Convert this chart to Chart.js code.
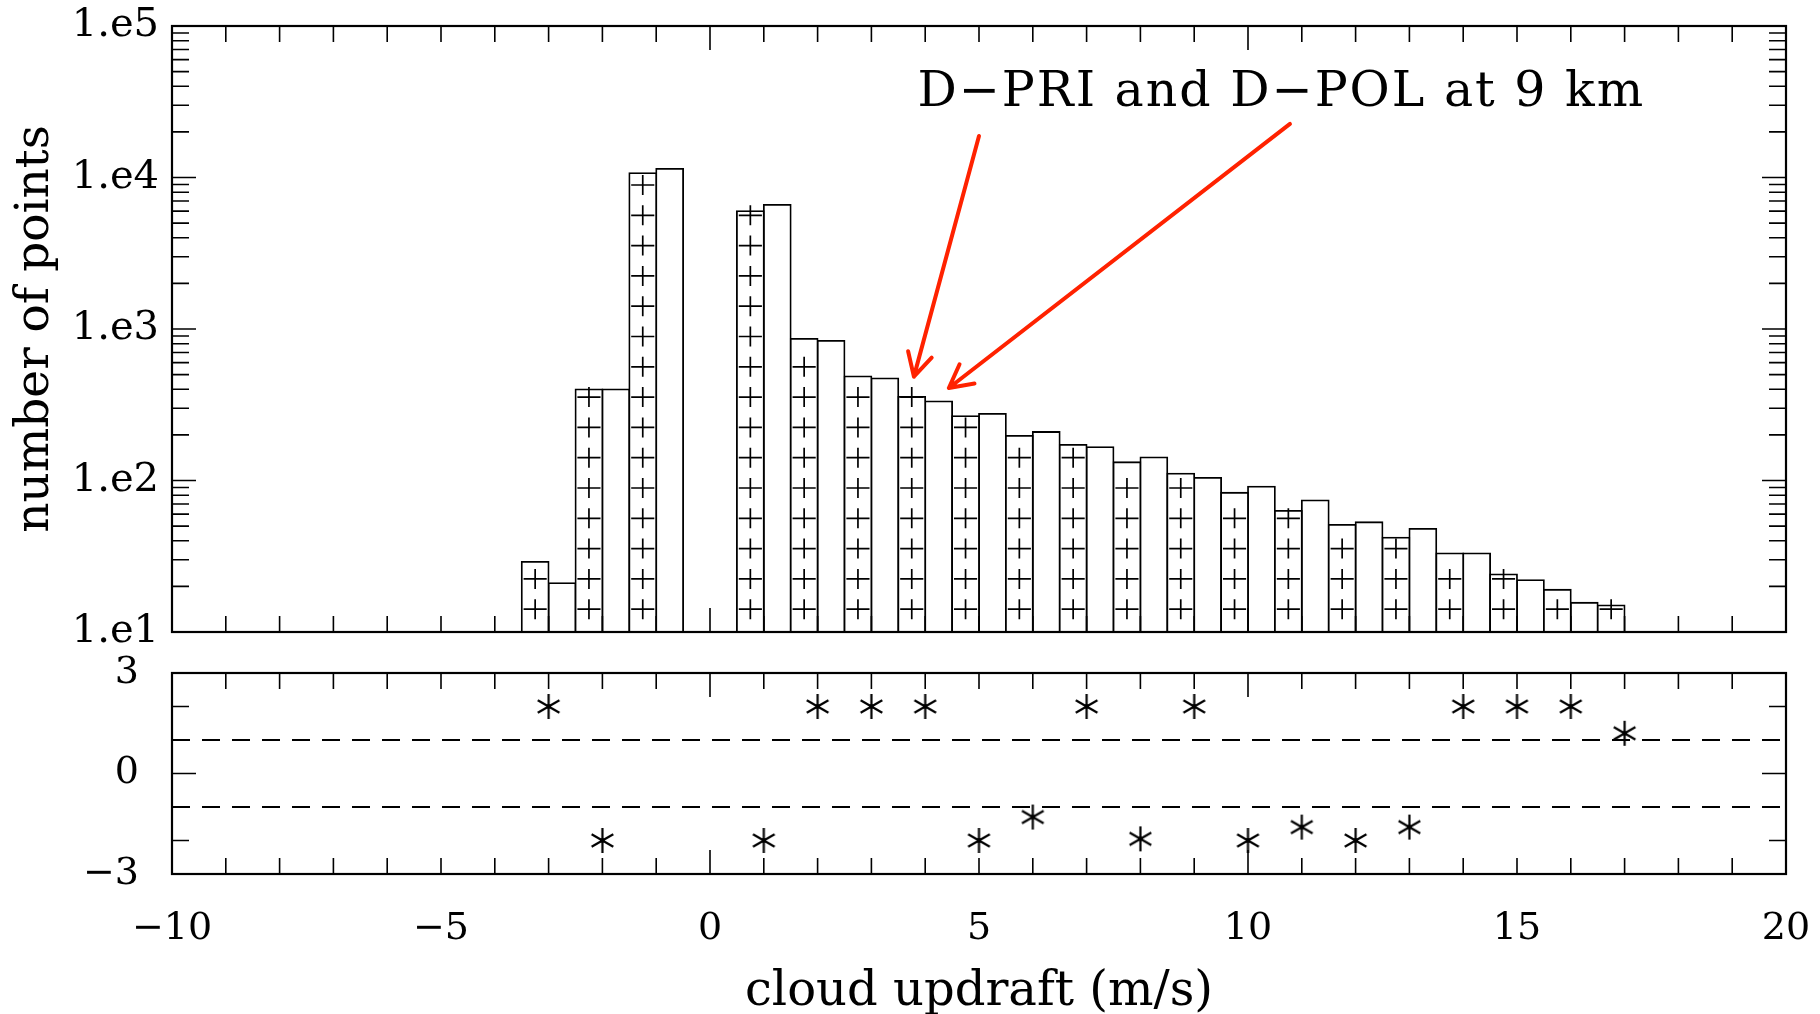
<!DOCTYPE html>
<html>
<head>
<meta charset="utf-8">
<title>cloud updraft histogram</title>
<script src="https://cdn.jsdelivr.net/npm/chart.js@4/dist/chart.umd.min.js"></script>
<style>
  html, body { margin: 0; padding: 0; background: #fff; }
  body { width: 1820px; height: 1014px; position: relative; overflow: hidden; }
  .panel { position: absolute; left: 0; width: 1820px; }
  #topPanel { top: 0; height: 660px; }
  #bottomPanel { top: 646px; height: 368px; }
  canvas { display: block; }
</style>
</head>
<body>
<div class="panel" id="topPanel"><canvas id="hist" width="1820" height="660"></canvas></div>
<div class="panel" id="bottomPanel"><canvas id="diff" width="1820" height="368"></canvas></div>
<script>
// ---- data ----------------------------------------------------------
// updraft bins (m/s); each bin holds a D-PRI half bar (left) and a D-POL half bar (right)
const bins = [-3, -2, -1, 0, 1, 2, 3, 4, 5, 6, 7, 8, 9, 10, 11, 12, 13, 14, 15, 16, 17];
const dPri = [29, 400, 10700, null, 6000, 860, 487, 356, 266, 197, 172, 132, 111, 83, 63, 51, 42, 33, 24, 19, 15];
const dPol = [21, 400, 11400, null, 6600, 835, 472, 333, 275, 209, 166, 142, 104, 91, 74, 53, 48, 33, 22, 15.6, null];

// normalised difference per bin (lower panel)
const diffX = [-3, -2, 1, 2, 3, 4, 5, 6, 7, 8, 9, 10, 11, 12, 13, 14, 15, 16, 17];
const diffY = [2, -2, -2, 2, 2, 2, -2, -1.3, 2, -1.95, 2, -2, -1.6, -2, -1.6, 2, 2, 2, 1.2];
const bandLevels = [1, -1];

// axis ranges and tick labels
const xMin = -10, xMax = 20;
const xTickValues = [-10, -5, 0, 5, 10, 15, 20];
const xTickLabels = ['\u221210', '\u22125', '0', '5', '10', '15', '20'];
const histTickValues = [10, 100, 1000, 10000, 100000];
const histTickLabels = ['1.e1', '1.e2', '1.e3', '1.e4', '1.e5'];
const diffTickValues = [-3, 0, 3];
const diffTickLabels = ['\u22123', '0', '3'];

// callout text and arrows, in data coordinates of the upper panel
const callout = { text: 'D\u2212PRI and D\u2212POL at 9 km', at: [10.62, 29800] };
const arrows = [
  { from: [5.0, 18800], to: [3.79, 485] },
  { from: [10.78, 22600], to: [4.44, 408] }
];

// ---- shared look -----------------------------------------------------
Chart.defaults.font.family = '"DejaVu Serif", serif';
Chart.defaults.color = '#000';
Chart.defaults.animation = false;

// fixed axis band; label overhang is absorbed by the layout padding
function fixedAxis(size) {
  return s => {
    if (s.isHorizontal()) s.height = size; else s.width = size;
    s.paddingLeft = s.paddingRight = s.paddingTop = s.paddingBottom = 0;
  };
}

// inward tick marks on all four sides plus the closed frame
function frameWithTicks(yMarks) {
  return {
    id: 'frameWithTicks',
    afterDraw(chart) {
      const { ctx, chartArea: a, scales: { x, y } } = chart;
      ctx.save();
      ctx.strokeStyle = '#000';
      ctx.lineWidth = 1.6;
      ctx.beginPath();
      for (let v = xMin; v <= xMax; v++) {
        const px = x.getPixelForValue(v);
        const len = v % 10 === 0 ? 24 : 16;
        ctx.moveTo(px, a.bottom); ctx.lineTo(px, a.bottom - len);
        ctx.moveTo(px, a.top); ctx.lineTo(px, a.top + len);
      }
      yMarks.forEach(([value, major]) => {
        const py = y.getPixelForValue(value);
        const len = major ? 24 : 17;
        ctx.moveTo(a.left, py); ctx.lineTo(a.left + len, py);
        ctx.moveTo(a.right, py); ctx.lineTo(a.right - len, py);
      });
      ctx.stroke();
      ctx.lineWidth = 2.2;
      ctx.strokeRect(a.left, a.top, a.right - a.left, a.bottom - a.top);
      ctx.restore();
    }
  };
}

const logMarks = [];
for (let e = 1; e < 5; e++) for (let k = 1; k < 10; k++) logMarks.push([k * Math.pow(10, e), k === 1]);
logMarks.push([1e5, true]);
const diffMarks = [[-2, false], [0, true], [2, false]];

// "+" fill pattern inside the D-PRI bars, stacked up from the base
const plusHatch = {
  id: 'plusHatch',
  afterDatasetsDraw(chart) {
    const meta = chart.getDatasetMeta(0);
    const { ctx } = chart;
    ctx.save();
    ctx.strokeStyle = '#000';
    ctx.lineWidth = 1.7;
    meta.data.forEach((bar, i) => {
      if (dPri[i] == null) return;
      const { x, y, base, width } = bar.getProps(['x', 'y', 'base', 'width'], true);
      const half = width * 0.43, arm = 10;
      ctx.beginPath();
      for (let cy = base - 22.8; cy >= y - 0.5; cy -= 30.3) {
        ctx.moveTo(x - half, cy); ctx.lineTo(x + half, cy);
        ctx.moveTo(x, cy - arm); ctx.lineTo(x, cy + arm);
      }
      ctx.stroke();
    });
    ctx.restore();
  }
};

// callout label with red arrows
const annotationLayer = {
  id: 'annotationLayer',
  afterDraw(chart) {
    const { ctx, scales: { x, y } } = chart;
    const P = ([vx, vy]) => [x.getPixelForValue(vx), y.getPixelForValue(vy)];
    ctx.save();
    ctx.font = '49px "DejaVu Serif"';
    if ('letterSpacing' in ctx) ctx.letterSpacing = '2px';
    ctx.fillStyle = '#000';
    ctx.textAlign = 'center';
    ctx.textBaseline = 'alphabetic';
    const [tx, ty] = P(callout.at);
    ctx.fillText(callout.text, tx, ty);
    if ('letterSpacing' in ctx) ctx.letterSpacing = '0px';
    ctx.strokeStyle = '#ff2200';
    ctx.lineWidth = 4;
    ctx.lineCap = 'round';
    ctx.lineJoin = 'round';
    arrows.forEach(({ from, to }) => {
      const [x0, y0] = P(from), [x1, y1] = P(to);
      const ang = Math.atan2(y0 - y1, x0 - x1);
      const head = 26, spread = 28 * Math.PI / 180;
      ctx.beginPath();
      ctx.moveTo(x0, y0); ctx.lineTo(x1, y1);
      ctx.moveTo(x1 + head * Math.cos(ang - spread), y1 + head * Math.sin(ang - spread));
      ctx.lineTo(x1, y1);
      ctx.lineTo(x1 + head * Math.cos(ang + spread), y1 + head * Math.sin(ang + spread));
      ctx.stroke();
    });
    ctx.restore();
  }
};

// six-armed asterisk used as the point marker
function asteriskSprite(size, lw) {
  const c = document.createElement('canvas');
  c.width = c.height = size;
  const g = c.getContext('2d');
  g.strokeStyle = '#000';
  g.lineWidth = lw;
  const m = size / 2, r = size / 2 - 1;
  [90, 30, 150].forEach(deg => {
    const t = deg * Math.PI / 180;
    g.beginPath();
    g.moveTo(m - r * Math.cos(t), m - r * Math.sin(t));
    g.lineTo(m + r * Math.cos(t), m + r * Math.sin(t));
    g.stroke();
  });
  g.beginPath();
  g.arc(m, m, lw * 1.1, 0, Math.PI * 2);
  g.fillStyle = '#000';
  g.fill();
  return c;
}

const barStyle = {
  backgroundColor: '#fff',
  borderColor: '#000',
  borderWidth: 1.8,
  inflateAmount: 0.9,
  borderSkipped: 'start',
  grouped: false,
  barPercentage: 1,
  categoryPercentage: 1
};

// ---- upper panel: histogram -----------------------------------------
new Chart(document.getElementById('hist'), {
  type: 'bar',
  data: {
    datasets: [
      Object.assign({ label: 'D-PRI', data: bins.map((b, i) => ({ x: b - 0.25, y: dPri[i] })) }, barStyle),
      Object.assign({ label: 'D-POL', data: bins.map((b, i) => ({ x: b + 0.25, y: dPol[i] })) }, barStyle)
    ]
  },
  options: {
    responsive: false,
    devicePixelRatio: 1,
    layout: { padding: { top: 26, right: 34, bottom: 28, left: 0 } },
    plugins: { legend: { display: false }, tooltip: { enabled: false } },
    scales: {
      x: { type: 'linear', min: xMin, max: xMax, offset: false, display: false },
      y: {
        type: 'logarithmic', min: 10, max: 1e5,
        afterBuildTicks: s => { s.ticks = histTickValues.map(value => ({ value })); },
        afterFit: fixedAxis(172),
        ticks: { callback: (v, i) => histTickLabels[i], font: { size: 40 }, padding: 13, autoSkip: false },
        grid: { display: false, drawTicks: false },
        border: { display: false },
        title: { display: true, text: 'number of points', font: { size: 47 }, padding: { top: 8, bottom: 0 } }
      }
    }
  },
  plugins: [plusHatch, frameWithTicks(logMarks), annotationLayer]
});

// ---- lower panel: normalised difference -----------------------------
new Chart(document.getElementById('diff'), {
  type: 'scatter',
  data: {
    datasets: bandLevels.map(level => ({
      type: 'line',
      data: [{ x: xMin, y: level }, { x: xMax, y: level }],
      borderColor: '#000',
      borderWidth: 1.8,
      borderDash: [18, 12],
      pointRadius: 0,
      fill: false
    })).concat([{
      type: 'scatter',
      data: diffX.map((x, i) => ({ x, y: diffY[i] })),
      pointStyle: asteriskSprite(27, 2.2),
      pointRadius: 13
    }])
  },
  options: {
    responsive: false,
    devicePixelRatio: 1,
    layout: { padding: { top: 27, right: 34, bottom: 0, left: 0 } },
    plugins: { legend: { display: false }, tooltip: { enabled: false } },
    scales: {
      x: {
        type: 'linear', min: xMin, max: xMax, offset: false,
        afterBuildTicks: s => { s.ticks = xTickValues.map(value => ({ value })); },
        afterFit: fixedAxis(140),
        ticks: { callback: (v, i) => xTickLabels[i], font: { size: 38 }, padding: 32, autoSkip: false, maxRotation: 0 },
        grid: { display: false, drawTicks: false },
        border: { display: false },
        title: { display: true, text: 'cloud updraft (m/s)', font: { size: 48, lineHeight: 0.9 }, padding: { top: 0, bottom: 0 } }
      },
      y: {
        type: 'linear', min: -3, max: 3,
        afterBuildTicks: s => { s.ticks = diffTickValues.map(value => ({ value })); },
        afterFit: fixedAxis(172),
        ticks: { callback: (v, i) => diffTickLabels[i], font: { size: 38 }, padding: 33, autoSkip: false },
        grid: { display: false, drawTicks: false },
        border: { display: false }
      }
    }
  },
  plugins: [frameWithTicks(diffMarks)]
});
</script>
</body>
</html>
